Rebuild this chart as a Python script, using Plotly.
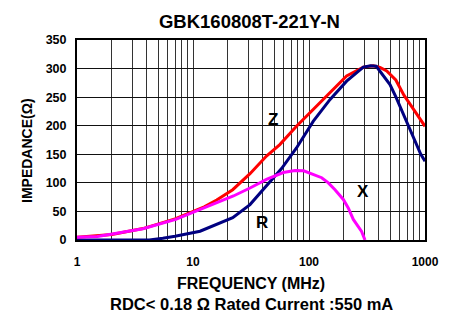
import numpy as np
import plotly.graph_objects as go

# ---- data (frequency in MHz, impedance in ohm) ----
freq_z = [1, 2, 3.7, 7, 12.5, 16, 22, 31, 43, 56, 78, 109, 152, 211, 294, 358, 409, 468, 560, 660, 800, 1000]
z_vals = [5, 9.5, 20, 37, 58, 70, 88, 116, 147, 167, 199, 228, 257, 287, 302.5, 305, 302, 296, 280, 253, 228, 199]

freq_r = [1, 4.2, 5.5, 7, 11.5, 16, 22, 31, 43, 58, 78, 109, 152, 211, 294, 340, 380, 409, 499, 562, 720, 920, 1000]
r_vals = [0, 0, 3, 6.6, 15.4, 27, 39, 62, 94, 125, 161, 208, 246, 278, 302.5, 305, 304, 295, 272, 250, 200, 150, 138]

freq_x = [1, 1.5, 1.9, 3.7, 7.1, 12.5, 22.3, 31, 43, 60, 75.6, 90, 105.5, 128.6, 146.8, 167.5, 197.6, 218, 241, 266, 284, 304]
x_vals = [5, 6, 9.6, 19.6, 36, 56, 77, 91, 106, 118, 121.6, 121, 116, 109, 100, 88, 71, 56, 36, 24, 15, 0]

curve_labels = ["Z", "R", "X"]
label_freq = [49.3, 39.1, 294]
label_val = [211, 30, 85]

y_ticks = [0, 50, 100, 150, 200, 250, 300, 350]
x_major = [1, 10, 100, 1000]
x_grid = [m * d for d in [1, 10, 100] for m in range(1, 10)] + [1000]
x_text = [str(v) if v in x_major else "" for v in x_grid]

title_text = "GBK160808T-221Y-N"
x_title = "FREQUENCY (MHz)"
sub_title = "RDC< 0.18 Ω Rated Current :550 mA"
y_title = "IMPEDANCE(Ω)"

FONT = "Liberation Sans, Arial, sans-serif"

fig = go.Figure()
fig.add_trace(go.Scatter(x=freq_z, y=z_vals, mode="lines", line=dict(color="#ff0000", width=3)))
fig.add_trace(go.Scatter(x=freq_r, y=r_vals, mode="lines", line=dict(color="#000080", width=3)))
fig.add_trace(go.Scatter(x=freq_x, y=x_vals, mode="lines", line=dict(color="#ff00ff", width=3)))

annotations = []
for t, f, v in zip(curve_labels, label_freq, label_val):
    annotations.append(dict(x=np.log10(f), y=v, xref="x", yref="y", text=t, showarrow=False,
                            font=dict(family=FONT, size=17, color="#000", weight="bold")))
annotations.append(dict(x=0.5, y=-0.215, xref="paper", yref="paper", text=x_title, showarrow=False,
                        xanchor="center", yanchor="middle",
                        font=dict(family=FONT, size=16, color="#000", weight="bold")))
annotations.append(dict(x=0.5, y=-0.3175, xref="paper", yref="paper", text=sub_title, showarrow=False,
                        xanchor="center", yanchor="middle",
                        font=dict(family=FONT, size=16.5, color="#000", weight="bold")))
annotations.append(dict(x=-0.1437, y=0.45, xref="paper", yref="paper", text=y_title, showarrow=False,
                        textangle=-90, xanchor="center", yanchor="middle",
                        font=dict(family=FONT, size=14, color="#000", weight="bold")))

# page body has an 8px margin, so the figure is 8px smaller and shifted accordingly
fig.update_layout(
    width=448, height=312,
    margin=dict(l=69, r=31, t=32, b=80),
    paper_bgcolor="white", plot_bgcolor="white",
    showlegend=False,
    title=dict(text=title_text, x=0.539, xanchor="center", y=0.956, yanchor="middle", yref="container",
               font=dict(family=FONT, size=18.5, color="#000", weight="bold")),
    annotations=annotations,
)
fig.update_xaxes(type="log", range=[0, 3], tickvals=x_grid, ticktext=x_text,
                 showgrid=True, gridcolor="#333333", gridwidth=1,
                 showline=True, linecolor="#000", linewidth=2, mirror=True,
                 ticks="", ticklabelstandoff=10, zeroline=False,
                 tickfont=dict(family=FONT, size=12, color="#000", weight="bold"))
fig.update_yaxes(range=[0, 350], tickvals=y_ticks,
                 showgrid=True, gridcolor="#111111", gridwidth=1,
                 showline=True, linecolor="#000", linewidth=2, mirror=True,
                 ticks="", ticklabelstandoff=6, zeroline=False,
                 tickfont=dict(family=FONT, size=12.5, color="#000", weight="bold"))

fig.write_html("out.html")
